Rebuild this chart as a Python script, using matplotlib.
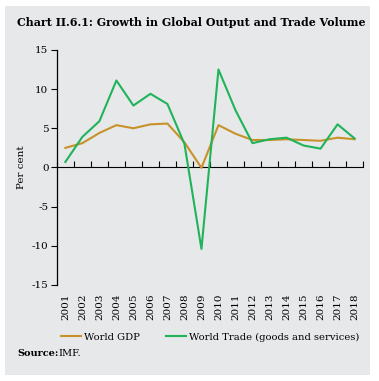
import matplotlib
matplotlib.use("Agg")
from matplotlib import pyplot as plt
from matplotlib.patches import Rectangle
import numpy as np

years = ["2001", "2002", "2003", "2004", "2005", "2006", "2007", "2008", "2009",
         "2010", "2011", "2012", "2013", "2014", "2015", "2016", "2017", "2018"]
world_gdp = [2.5, 3.1, 4.4, 5.4, 5.0, 5.5, 5.6, 3.2, -0.05,
             5.4, 4.3, 3.5, 3.5, 3.6, 3.5, 3.4, 3.8, 3.6]
world_trade = [0.7, 3.9, 5.9, 11.1, 7.9, 9.4, 8.1, 3.0, -10.4,
               12.5, 7.3, 3.1, 3.6, 3.8, 2.8, 2.4, 5.5, 3.7]

plt.rcParams['font.family'] = ['DejaVu Serif']

fig = plt.figure(figsize=(3.79, 3.81), dpi=100)
fig.patch.set_facecolor("white")
bg = "#e7e8ea"
fig.patches.append(Rectangle((5 / 379, 1 - 375 / 381), 365 / 379, 369 / 381,
                             transform=fig.transFigure, facecolor=bg,
                             edgecolor="none", zorder=-10))

ax = fig.add_axes([0.150, 0.252, 0.808, 0.617])
ax.set_facecolor("none")

x = np.arange(len(years))
ax.plot(x, world_gdp, color="#c8922a", lw=1.5, label="World GDP")
ax.plot(x, world_trade, color="#1fb45a", lw=1.5, label="World Trade (goods and services)")

ax.set_xlim(-0.5, len(years) - 0.5)
ax.set_ylim(-15, 15)
ax.set_yticks(np.arange(-15, 16, 5))
ax.set_yticklabels([str(v) for v in range(-15, 16, 5)])
ax.tick_params(axis="y", direction="out", length=4, width=0.8, labelsize=7.5, pad=2)

ax.set_xticks(x)
ax.set_xticklabels(years, rotation=90, fontsize=7.5)
ax.tick_params(axis="x", length=0, pad=6)

for s in ["top", "right", "bottom"]:
    ax.spines[s].set_visible(False)
ax.spines["left"].set_linewidth(0.9)

# zero line with tick marks between categories
sec = ax.secondary_xaxis(0.5)
sec.set_xticks(np.arange(len(years) + 1) - 0.5)
sec.set_xticklabels([])
sec.tick_params(axis="x", direction="out", length=4, width=0.8)
sec.spines["bottom"].set_linewidth(0.9)

ax.set_ylabel("Per cent", fontsize=7.5, labelpad=4)

fig.text(17 / 379, 1 - 23 / 381, "Chart II.6.1: Growth in Global Output and Trade Volume",
         fontsize=7.9, fontweight="bold", va="center", ha="left")

fig.legend(loc="center", bbox_to_anchor=(210 / 379, 1 - 337 / 381), ncol=2, frameon=False,
           fontsize=7.2, handlelength=2.0, columnspacing=2.6, handletextpad=0.3,
           borderaxespad=0, borderpad=0)

fig.text(17 / 379, 1 - 353 / 381, "Source:", fontsize=7, fontweight="bold", va="center")
fig.text(58 / 379, 1 - 353 / 381, "IMF.", fontsize=7, va="center")

fig.savefig("out.png", dpi=100, facecolor="white")
